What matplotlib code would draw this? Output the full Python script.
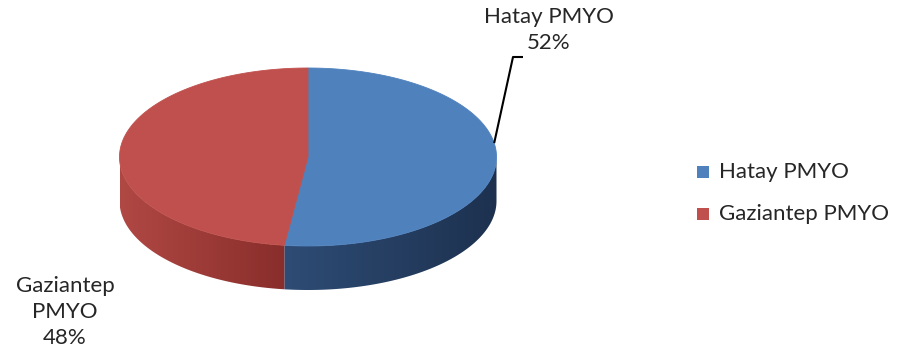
import numpy as np
import matplotlib
matplotlib.use("Agg")
import matplotlib.pyplot as plt
from matplotlib.patches import Polygon
from matplotlib.colors import LinearSegmentedColormap

# ==========================================
# data
# ==========================================
labels = ["Hatay PMYO", "Gaziantep PMYO"]
shares = [52, 48]
top_colors = ["#4f81bd", "#c0504d"]
# side wall gradient: (left colour, right colour)
side_colors = [("#2e4c75", "#1d314f"), ("#b04844", "#892e2b")]

plt.rcParams["font.family"] = ["Lato", "DejaVu Sans"]
FONT_SIZE = 16
TEXT_COLOR = "#262626"

fig = plt.figure(figsize=(9.06, 3.62), dpi=100)
ax = fig.add_axes([0, 0, 1, 1])
ax.set_xlim(0, 906)
ax.set_ylim(362, 0)
ax.axis("off")

# ellipse geometry (pixel units)
cx, cy = 308, 157
a, b = 188.5, 89
depth = 44


def pt(theta, dy=0.0):
    # theta: degrees clockwise from 12 o'clock
    t = np.radians(theta)
    return cx + a * np.sin(t), cy - b * np.cos(t) + dy


fracs = np.array(shares, dtype=float) / sum(shares)
bounds = np.concatenate([[0], np.cumsum(fracs) * 360])

# side walls (only the front half 90..270 is visible)
for i in range(len(shares)):
    t0 = max(bounds[i], 90)
    t1 = min(bounds[i + 1], 270)
    if t1 <= t0:
        continue
    ts = np.linspace(t0, t1, 200)
    xs, ys = pt(ts)
    verts = list(zip(xs, ys)) + list(zip(xs[::-1], ys[::-1] + depth))
    poly = Polygon(verts, closed=True, facecolor="none", edgecolor="none")
    ax.add_patch(poly)
    xmin, xmax = xs.min(), xs.max()
    cmap = LinearSegmentedColormap.from_list("side%d" % i, list(side_colors[i]))
    grad = np.linspace(0, 1, 256).reshape(1, -1)
    im = ax.imshow(grad, cmap=cmap, aspect="auto", interpolation="bilinear",
                   extent=(xmin, xmax, ys.max() + depth + 1, ys.min() - 1))
    im.set_clip_path(poly)

ax.set_xlim(0, 906)
ax.set_ylim(362, 0)

# top faces
for i in range(len(shares)):
    ts = np.linspace(bounds[i], bounds[i + 1], 300)
    xs, ys = pt(ts)
    verts = [(cx, cy)] + list(zip(xs, ys))
    ax.add_patch(Polygon(verts, closed=True, facecolor=top_colors[i],
                         edgecolor=top_colors[i], lw=0.6))

# data labels
ex, ey = pt(81)
ax.plot([ex, 513, 523], [ey, 57, 57], color="black", lw=1.5, solid_capstyle="butt")
ax.text(549, 30, f"{labels[0]}\n{shares[0]}%", ha="center", va="center",
        fontsize=FONT_SIZE, linespacing=1.4, color=TEXT_COLOR)
ax.text(65, 312, "Gaziantep\nPMYO\n" + f"{shares[1]}%", ha="center", va="center",
        fontsize=FONT_SIZE, linespacing=1.4, color=TEXT_COLOR)

# legend
for i, lab in enumerate(labels):
    y = 172 + i * 42
    ax.add_patch(Polygon([(697, y - 6), (709, y - 6), (709, y + 6), (697, y + 6)],
                         closed=True, facecolor=top_colors[i], edgecolor="none"))
    ax.text(719, y, lab, ha="left", va="center", fontsize=FONT_SIZE, color=TEXT_COLOR)

fig.savefig("out.png", dpi=100)
